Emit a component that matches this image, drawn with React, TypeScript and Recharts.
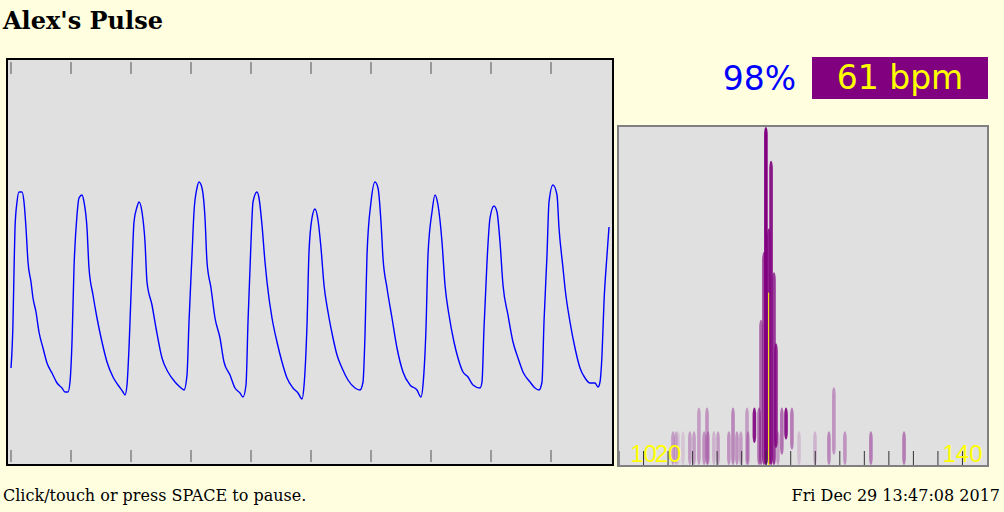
import React from 'react'
import {
  LineChart, Line, XAxis, YAxis, ComposedChart, Bar, ReferenceLine,
} from 'recharts'

const pulseT = [
  0, 2, 3, 4, 6, 8, 11, 13, 15, 17,
  20, 22, 25, 28, 32, 36, 41, 46, 51, 54,
  57, 59, 61, 63, 66, 68, 71, 73, 76, 78,
  82, 86, 91, 96, 102, 107, 112, 114, 116, 118,
  121, 123, 126, 128, 131, 134, 136, 141, 145, 151,
  157, 164, 169, 173, 176, 178, 181, 183, 186, 188,
  191, 194, 196, 200, 204, 209, 213, 219, 224, 229,
  232, 235, 237, 240, 242, 246, 248, 251, 254, 256,
  261, 266, 271, 276, 282, 287, 291, 293, 296, 298,
  301, 304, 307, 310, 313, 317, 322, 326, 331, 337,
  344, 349, 352, 354, 356, 360, 364, 367, 370, 372,
  376, 381, 386, 392, 399, 406, 410, 412, 415, 417,
  421, 424, 427, 431, 434, 438, 443, 447, 452, 457,
  462, 469, 471, 473, 476, 479, 483, 486, 489, 492,
  497, 502, 507, 512, 519, 524, 528, 531, 533, 536,
  538, 542, 546, 548, 552, 554, 559, 564, 569, 574,
  579, 584, 587, 589, 591, 593, 596, 598,
]
const pulseV = [
  96, 142, 192, 236, 262, 272, 272, 262, 236, 202,
  182, 166, 152, 132, 116, 101, 91, 81, 76, 72,
  72, 82, 122, 196, 249, 266, 269, 262, 236, 196,
  169, 146, 122, 102, 87, 79, 72, 69, 79, 116,
  196, 242, 257, 262, 252, 222, 182, 159, 136, 106,
  92, 82, 77, 74, 89, 142, 209, 252, 276, 282,
  276, 246, 202, 176, 146, 126, 102, 89, 76, 71,
  67, 79, 142, 222, 262, 272, 266, 239, 202, 182,
  146, 122, 102, 86, 76, 71, 65, 78, 139, 212,
  246, 255, 244, 216, 179, 152, 126, 109, 96, 84,
  76, 74, 82, 129, 209, 262, 282, 276, 242, 206,
  176, 146, 116, 92, 79, 74, 67, 79, 136, 209,
  252, 269, 259, 222, 179, 149, 122, 106, 92, 87,
  79, 76, 82, 136, 202, 246, 258, 252, 222, 179,
  149, 122, 106, 92, 82, 76, 74, 82, 142, 209,
  262, 279, 269, 236, 196, 176, 142, 116, 96, 86,
  81, 81, 77, 82, 109, 162, 209, 237,
]
const secondTicks = [0, 60, 120, 180, 240, 300, 360, 420, 480, 540]

// spectrum history: each spike is a peak of one frame, fading with age
const spikeBpm = [
  22.0, 23.2, 24.1, 26.1, 28.9, 30.6, 32.6, 34.7, 35.9, 36.3,
  38.7, 40.4, 44.8, 46.5, 48.1, 49.7, 52.2, 52.6, 55.2, 57.1,
  57.9, 59.1, 59.9, 61.1, 62.0, 63.2, 64.0, 64.8, 66.4, 68.1,
  70.5, 73.4, 79.9, 85.6, 87.6, 92.1, 102.7, 116.2,
]
const spikeTop = [
  0.10, 0.10, 0.10, 0.10, 0.10, 0.10, 0.17, 0.10, 0.17, 0.10,
  0.10, 0.10, 0.10, 0.17, 0.10, 0.10, 0.17, 0.10, 0.17, 0.17,
  0.43, 0.63, 1.0, 0.70, 0.90, 0.57, 0.36, 0.10, 0.17, 0.17,
  0.17, 0.10, 0.10, 0.10, 0.23, 0.10, 0.10, 0.10,
]
const spikeBase = [
  0, 0, 0, 0, 0, 0, 0, 0, 0, 0,
  0, 0, 0, 0, 0, 0, 0, 0, 0.065, 0,
  0, 0, 0, 0, 0, 0, 0.05, 0, 0.03, 0.075,
  0.045, 0, 0, 0, 0.03, 0, 0, 0,
]
const spikeAlpha = [
  0.3, 0.25, 0.12, 0.12, 0.3, 0.3, 0.3, 0.35, 0.35, 0.3,
  0.2, 0.3, 0.35, 0.4, 0.35, 0.3, 0.3, 0.3, 0.9, 0.5,
  0.55, 0.7, 1, 0.85, 0.9, 0.75, 0.85, 0.3, 0.5, 0.9,
  0.45, 0.15, 0.2, 0.4, 0.35, 0.35, 0.45, 0.45,
]
const bpmTicks = [0, 10, 20, 30, 40, 50, 60, 70, 80, 90, 100, 110, 120, 130, 140]
const bpmLabels = [10, 20, 140]

const currentBpm = 61
const currentPower = 0.51
const oxygen = '98%'
const title = "Alex's Pulse"
const hint = 'Click/touch or press SPACE to pause.'
const stamp = 'Fri Dec 29 13:47:08 2017'

const pulseData = pulseT.map((t, i) => ({ t, v: pulseV[i] }))
const spikeData = spikeBpm
  .map((bpm, i) => ({ bpm, range: [spikeBase[i], spikeTop[i]], alpha: spikeAlpha[i] }))
  .sort((a, b) => a.alpha - b.alpha)

const SPIKE_W = 3.6

function Spike(props: any) {
  const { x, y, width, height, payload } = props
  if (x == null || y == null) return null
  const h = Math.abs(height)
  const top = height < 0 ? y + height : y
  const cx = x + (width || 0) / 2
  return (
    <rect x={cx - SPIKE_W / 2} y={top} width={SPIKE_W} height={h} rx={SPIKE_W / 2} ry={Math.min(h / 2, 8)}
      fill="#800080" fillOpacity={payload.alpha} />
  )
}

function BpmTick(props: any) {
  const { x, payload } = props
  if (!bpmLabels.includes(payload.value)) return <g />
  return (
    <text x={x} y={335} textAnchor="middle" fill="#ffff00"
      style={{ fontFamily: 'Liberation Sans', fontSize: 24 }}>
      {payload.value}
    </text>
  )
}

const NoLabel = () => <g />

const tickStroke = { stroke: '#999', strokeWidth: 2 }

export default function App() {
  return (
    <div style={{
      position: 'absolute', left: 0, top: 0, width: 1004, height: 512,
      background: '#ffffe0', fontFamily: 'DejaVu Serif', overflow: 'hidden',
    }}>
      <div style={{ position: 'absolute', left: 3, top: 9, fontSize: 24, lineHeight: '24px', fontWeight: 'bold' }}>
        {title}
      </div>

      <div style={{
        position: 'absolute', left: 6, top: 58, width: 604, height: 404,
        border: '2px solid #000', background: '#e0e0e0',
      }}>
        <LineChart width={604} height={404} data={pulseData} margin={{ top: 2, right: 0, bottom: 2, left: 0 }}>
          <XAxis xAxisId="top" orientation="top" mirror type="number" dataKey="t" domain={[-3, 601]}
            ticks={secondTicks} interval={0} tickSize={12} tick={<NoLabel />} axisLine={false} tickLine={tickStroke} />
          <XAxis xAxisId="bottom" orientation="bottom" mirror type="number" dataKey="t" domain={[-3, 601]}
            ticks={secondTicks} interval={0} tickSize={12} tick={<NoLabel />} axisLine={false} tickLine={tickStroke} />
          <YAxis hide domain={[2, 402]} />
          <Line xAxisId="bottom" type="monotone" dataKey="v" stroke="#0000ff" strokeWidth={1.4}
            dot={false} isAnimationActive={false} />
        </LineChart>
      </div>

      <div style={{
        position: 'absolute', left: 700, top: 62, width: 96, textAlign: 'right',
        fontFamily: 'DejaVu Sans', fontSize: 33, lineHeight: '33px', color: '#0000ff',
      }}>
        {oxygen}
      </div>
      <div style={{
        position: 'absolute', left: 812, top: 57, width: 176, height: 42, background: '#800080',
        color: '#ffff00', fontFamily: 'DejaVu Sans', fontSize: 33, lineHeight: '42px', textAlign: 'center',
      }}>
        {currentBpm} bpm
      </div>

      <div style={{
        position: 'absolute', left: 617, top: 125, width: 368, height: 338,
        border: '2px solid #808080', background: '#e0e0e0',
      }}>
        <ComposedChart width={368} height={338} data={spikeData} margin={{ top: 0, right: 0, bottom: 0, left: 0 }}>
          <XAxis type="number" dataKey="bpm" domain={[0, 150]} ticks={bpmTicks} interval={0} mirror
            tickSize={14} axisLine={false} tickLine={{ stroke: '#333', strokeWidth: 1 }} tick={<BpmTick />} />
          <YAxis hide domain={[0, 1]} />
          <Bar dataKey="range" barSize={4} shape={<Spike />} isAnimationActive={false} />
          <ReferenceLine segment={[{ x: currentBpm, y: 0 }, { x: currentBpm, y: currentPower }]}
            stroke="#ffff00" strokeWidth={1} />
        </ComposedChart>
      </div>

      <div style={{ position: 'absolute', left: 3, top: 488, fontSize: 16, lineHeight: '16px' }}>
        {hint}
      </div>
      <div style={{ position: 'absolute', right: 4, top: 488, fontSize: 16, lineHeight: '16px' }}>
        {stamp}
      </div>
    </div>
  )
}
